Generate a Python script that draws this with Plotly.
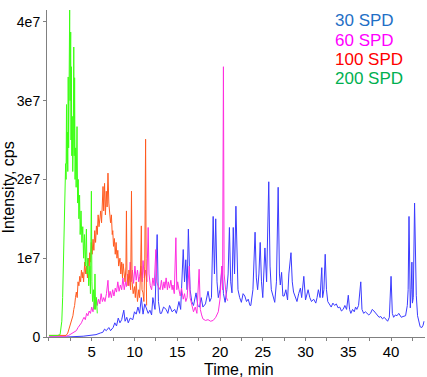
import numpy as np
import plotly.graph_objects as go

# ---- data (intensity in units of 1e7 cps, time in min) ----
t200 = [0, 0.5, 1.0, 1.3, 1.5, 1.6, 1.7, 1.8, 1.9, 1.95, 2.0, 2.05, 2.1, 2.15, 2.2, 2.25, 2.3, 2.35,
        2.42, 2.47, 2.54, 2.58, 2.62, 2.67, 2.72, 2.78, 2.85, 2.9, 2.95, 3.0, 3.05, 3.12, 3.18, 3.28,
        3.35, 3.42, 3.5, 3.58, 3.65, 3.75, 3.85, 3.95, 4.05, 4.15, 4.25, 4.38, 4.45, 4.55, 4.65, 4.77,
        4.85, 4.96, 5.02, 5.1, 5.2, 5.3, 5.38, 5.45, 5.55, 5.65]
v200 = [0.02, 0.02, 0.02, 0.03, 0.2, 0.5, 1.0, 1.5, 1.9, 2.2, 2.0, 2.95, 2.2, 2.6, 2.1, 3.3, 2.4, 3.0,
        4.15, 3.0, 3.87, 2.5, 3.43, 2.3, 2.8, 2.1, 2.5, 3.68, 2.3, 3.29, 2.0, 2.4, 1.9, 2.67,
        1.7, 2.0, 1.5, 1.8, 1.3, 1.6, 1.2, 1.4, 1.0, 1.3, 0.9, 1.37, 0.8, 1.0, 0.65, 0.9,
        0.55, 1.85, 0.7, 0.45, 0.6, 0.35, 0.8, 0.35, 0.5, 0.3]

t100 = [0, 1.0, 2.0, 2.2, 2.4, 2.6, 2.8, 2.9, 3.0, 3.1, 3.2, 3.3, 3.4, 3.5, 3.6, 3.7, 3.8, 3.9, 3.96,
        4.05, 4.18, 4.3, 4.4, 4.5, 4.6, 4.7, 4.77, 4.85, 4.95, 5.05, 5.15, 5.25, 5.35, 5.45, 5.55,
        5.65, 5.75, 5.85, 5.94, 6.05, 6.15, 6.25, 6.32, 6.4, 6.5, 6.6, 6.7, 6.8, 6.9, 7.0, 7.1, 7.2,
        7.3, 7.4, 7.46, 7.55, 7.65, 7.75, 7.85, 7.95, 8.05, 8.15, 8.3, 8.4, 8.5, 8.6, 8.67, 8.8, 8.9,
        9.0, 9.06, 9.12, 9.25, 9.35, 9.45, 9.55, 9.65, 9.72, 9.85, 10.0, 10.1, 10.2, 10.35, 10.5,
        10.6, 10.7, 10.8, 10.88, 11.0, 11.1, 11.2, 11.3, 11.36, 11.42]
v100 = [0.02, 0.02, 0.02, 0.05, 0.12, 0.2, 0.27, 0.35, 0.4, 0.5, 0.57, 0.5, 0.7, 0.65, 0.77, 0.7, 0.85, 0.75, 0.82,
        0.7, 0.95, 0.8, 0.9, 0.75, 1.0, 0.9, 1.07, 0.95, 1.2, 1.05, 1.24, 1.1, 1.35, 1.2, 1.41,
        1.3, 1.55, 1.4, 1.5, 1.6, 1.45, 1.75, 1.91, 1.6, 1.95, 1.55, 1.85, 1.65, 2.08, 1.7, 1.6, 1.45,
        1.55, 1.3, 1.35, 1.15, 1.25, 1.05, 1.2, 1.0, 1.1, 0.9, 1.0, 0.8, 0.95, 0.75, 0.93, 0.8, 0.7,
        0.9, 1.6, 0.8, 0.65, 0.85, 0.76, 0.6, 1.85, 0.7, 0.55, 0.64, 0.5, 0.7, 0.45, 0.6,
        0.5, 0.8, 1.41, 0.6, 0.56, 0.45, 0.9, 2.51, 1.0, 0.4]

t60 = [0, 1.0, 2.0, 2.3, 2.6, 2.9, 3.2, 3.4, 3.6, 3.8, 3.95, 4.1, 4.25, 4.4, 4.55, 4.7, 4.85, 5.0, 5.15,
       5.3, 5.4, 5.55, 5.65, 5.8, 5.95, 6.1, 6.25, 6.4, 6.55, 6.72, 6.9, 7.0, 7.15, 7.3, 7.45, 7.6,
       7.75, 7.9, 8.05, 8.2, 8.35, 8.5, 8.65, 8.8, 8.95, 9.06, 9.2, 9.35, 9.5, 9.6, 9.75, 9.9, 10.05,
       10.2, 10.35, 10.5, 10.6, 10.75, 10.9, 11.0, 11.15, 11.3, 11.45, 11.6, 11.7, 11.85, 12.0, 12.15,
       12.3, 12.5, 12.6, 12.75, 13.0, 13.15, 13.3, 13.45, 13.55, 13.7, 13.85, 13.95, 14.1, 14.25, 14.4,
       14.5, 14.65, 14.84, 14.95, 15.05, 15.2, 15.35, 15.5, 15.7, 15.85, 16.0, 16.15, 16.4, 16.5, 16.7,
       16.9, 17.1, 17.3, 17.56, 17.7, 17.85, 18.0, 18.3, 18.6, 18.9, 19.2, 19.5, 19.8, 20.0, 20.2, 20.3,
       20.4, 20.48, 20.6, 20.75, 20.9]
v60 = [0.01, 0.01, 0.01, 0.02, 0.04, 0.06, 0.08, 0.12, 0.15, 0.18, 0.22, 0.25, 0.22, 0.3, 0.27, 0.33, 0.3, 0.38, 0.32,
       0.45, 0.38, 0.5, 0.4, 0.48, 0.42, 0.55, 0.45, 0.5, 0.45, 0.55, 0.72, 0.5, 0.58, 0.5, 0.6, 0.52,
       0.62, 0.57, 0.7, 0.58, 0.66, 0.6, 0.75, 0.6, 0.7, 0.64, 0.8, 0.65, 0.95, 0.7, 0.85, 0.68, 0.9,
       0.72, 0.85, 0.7, 0.77, 0.9, 0.7, 0.97, 0.75, 0.85, 0.7, 1.39, 0.8, 0.65, 0.6, 0.75,
       0.65, 1.11, 0.7, 0.65, 0.6, 0.72, 0.6, 0.7, 0.62, 0.75, 0.6, 0.7, 0.62, 0.72, 0.6,
       0.66, 0.55, 1.26, 0.6, 0.7, 0.6, 0.52, 0.62, 0.48, 0.55, 0.45, 0.5, 0.9, 0.5, 0.4,
       0.32, 0.38, 0.3, 0.86, 0.35, 0.28, 0.23, 0.21, 0.22, 0.2, 0.21, 0.25, 0.32, 0.48, 0.9, 0.6,
       3.43, 0.8, 0.66, 0.5, 0.46]

t30 = [0, 2.0, 4.0, 5.0, 5.5, 6.0, 6.3, 6.5, 6.7, 7.0, 7.2, 7.5, 7.7, 7.9, 8.1, 8.3, 8.5, 8.75, 8.9,
       9.1, 9.27, 9.5, 9.8, 10.0, 10.2, 10.4, 10.6, 10.8, 11.0, 11.2, 11.4, 11.6, 11.8, 12.0, 12.15,
       12.4, 12.65, 12.8, 13.0, 13.15, 13.4, 13.7, 13.9, 14.1, 14.4, 14.7, 14.9, 15.2, 15.4, 15.7,
       15.85, 16.0, 16.15, 16.3, 16.5, 16.7, 16.9, 17.2, 17.4, 17.6, 17.8, 18.0, 18.3, 18.6, 18.8,
       19.0, 19.2, 19.35, 19.5, 19.65, 19.8, 20.0, 20.25, 20.4, 20.6, 20.8, 20.95, 21.1, 21.25, 21.4,
       21.55, 21.7, 21.86, 22.0, 22.1, 22.3, 22.5, 22.7, 22.9, 23.1, 23.3, 23.5, 23.6, 23.85, 24.1,
       24.25, 24.4, 24.55, 24.7, 24.85, 25.0, 25.25, 25.45, 25.7, 25.85, 26.0, 26.2, 26.4, 26.6, 26.8,
       26.95, 27.05, 27.2, 27.35, 27.5, 27.7, 27.9, 28.05, 28.3, 28.45, 28.6, 28.8, 29.0, 29.2, 29.4,
       29.55, 29.8, 30.0, 30.15, 30.3, 30.5, 30.7, 30.95, 31.2, 31.35, 31.5, 31.7, 31.9, 32.0, 32.15,
       32.3, 32.45, 32.6, 32.8, 33.0, 33.2, 33.4, 33.6, 33.8, 34.0, 34.2, 34.4, 34.6, 34.8, 35.0,
       35.15, 35.3, 35.5, 35.7, 35.85, 36.0, 36.2, 36.46, 36.6, 36.8, 37.0, 37.2, 37.4, 37.6, 37.8,
       38.0, 38.2, 38.4, 38.6, 38.8, 39.0, 39.2, 39.4, 39.6, 39.8, 40.0, 40.15, 40.3, 40.5, 40.7,
       40.9, 41.2, 41.4, 41.7, 41.9, 42.0, 42.1, 42.2, 42.25, 42.35, 42.44, 42.5, 42.6, 42.75, 42.85,
       42.95, 43.1, 43.25, 43.4, 43.6, 43.75, 43.85]
v30 = [0.0, 0.0, 0.01, 0.02, 0.03, 0.05, 0.06, 0.1, 0.08, 0.12, 0.08, 0.12, 0.18, 0.14, 0.24, 0.18, 0.22, 0.34, 0.2,
       0.25, 0.18, 0.24, 0.22, 0.32, 0.29, 0.38, 0.3, 0.5, 0.29, 0.42, 0.37, 0.3, 0.34, 0.28, 0.5,
       0.35, 1.3, 0.45, 0.3, 0.3, 0.38, 0.35, 0.3, 0.4, 0.32, 0.35, 0.3, 0.45, 0.35, 1.11,
       0.7, 0.98, 0.6, 1.37, 0.6, 0.45, 0.4, 0.56, 0.4, 0.38, 0.5, 0.38, 0.42, 0.58, 0.45,
       0.5, 1.53, 0.8, 1.5, 0.7, 0.5, 0.6, 0.9, 0.55, 0.44, 0.6, 0.8, 1.39, 0.7, 0.56,
       1.39, 0.8, 1.66, 0.9, 0.6, 0.5, 0.44, 0.55, 0.52, 0.45, 0.48, 0.4, 0.4, 0.6, 1.33,
       0.75, 0.6, 0.8, 1.2, 0.7, 0.5, 1.13, 0.7, 1.97, 0.9, 0.6, 0.5, 0.44, 0.7, 1.9,
       0.8, 0.66, 0.82, 0.52, 0.52, 0.6, 0.47, 0.8, 1.07, 0.7, 0.57, 0.5, 0.45, 0.55, 0.62,
       0.5, 0.77, 0.47, 0.55, 0.6, 0.5, 0.45, 0.48, 0.43, 0.5, 0.6, 0.5, 0.88, 0.5, 0.6,
       1.05, 0.6, 0.45, 0.42, 0.38, 0.43, 0.4, 0.42, 0.37, 0.38, 0.33, 0.35, 0.4, 0.35, 0.53,
       0.35, 0.3, 0.35, 0.32, 0.38, 0.35, 0.4, 0.7, 0.35, 0.3, 0.32, 0.3, 0.28, 0.3, 0.35,
       0.33, 0.3, 0.28, 0.25, 0.26, 0.23, 0.25, 0.22, 0.2, 0.25, 0.77, 0.3, 0.25, 0.28, 0.27,
       0.3, 0.25, 0.26, 0.27, 0.4, 0.6, 1.53, 0.5, 0.37, 0.6, 0.95, 0.43, 0.5, 1.7, 0.8,
       0.53, 0.27, 0.2, 0.13, 0.12, 0.15, 0.2]

series_names = ["30 SPD", "60 SPD", "100 SPD", "200 SPD"]
line_colors = ["#3b3bff", "#ff2ee0", "#ff5a1f", "#3cff14"]
label_colors = ["#1f6fc6", "#ff00ff", "#ff0000", "#00b050"]

x_tick_vals = [5, 10, 15, 20, 25, 30, 35, 40]
y_tick_vals = [0, 1e7, 2e7, 3e7, 4e7]
y_tick_text = ["0", "1e7", "2e7", "3e7", "4e7"]

SCALE = 1e7
fig = go.Figure()
for t, v, name, col in zip([t30, t60, t100, t200], [v30, v60, v100, v200], series_names, line_colors):
    fig.add_trace(go.Scatter(x=t, y=np.array(v) * SCALE, mode="lines", name=name,
                             line=dict(color=col, width=1), showlegend=False))

W, H = 427, 377
ml, mr, mt, mb = 47, 2, 10, 40
pw, ph = W - ml - mr, H - mt - mb

def px_x(p):
    return (p - ml) / pw

def px_y(p):
    return (H - mb - p) / ph

font_family = "Liberation Sans, Arial, sans-serif"
annotations = []
for i, (name, col) in enumerate(zip(series_names, label_colors)):
    annotations.append(dict(text=name, x=px_x(333), y=px_y(21 + 19 * i), xref="paper", yref="paper",
                            xanchor="left", yanchor="middle", showarrow=False,
                            font=dict(family=font_family, size=17, color=col)))
annotations.append(dict(text="Time, min", x=px_x(239), y=px_y(380), xref="paper", yref="paper",
                        xanchor="center", yanchor="bottom", showarrow=False,
                        font=dict(family=font_family, size=16, color="#000")))
annotations.append(dict(text="Intensity, cps", x=px_x(-3), y=px_y(188), xref="paper", yref="paper",
                        xanchor="left", yanchor="middle", showarrow=False, textangle=-90,
                        font=dict(family=font_family, size=16, color="#000")))

fig.update_layout(
    width=W, height=H,
    margin=dict(l=ml, r=mr, t=mt, b=mb, autoexpand=False),
    paper_bgcolor="white", plot_bgcolor="white",
    annotations=annotations,
    font=dict(family=font_family, size=14, color="#000"),
    xaxis=dict(range=[-0.23, 43.97], tickvals=x_tick_vals, showgrid=False, zeroline=False,
               showline=True, linecolor="#808080", linewidth=1, automargin=False,
               ticks="outside", ticklen=3, tickcolor="#808080", ticklabelstandoff=-2,
               minor=dict(dtick=2.5, tick0=0, ticks="outside", ticklen=3, tickcolor="#808080", showgrid=False),
               tickfont=dict(size=15)),
    yaxis=dict(range=[0, 4.15e7], tickvals=y_tick_vals, ticktext=y_tick_text, showgrid=False,
               zeroline=False, showline=True, linecolor="#808080", linewidth=1, automargin=False,
               ticks="outside", ticklen=3, tickcolor="#808080", tickfont=dict(size=14)),
)

fig.write_html("out.html", config={"displayModeBar": False},
               post_script="document.body.style.margin='0px';document.body.style.overflow='hidden';")
